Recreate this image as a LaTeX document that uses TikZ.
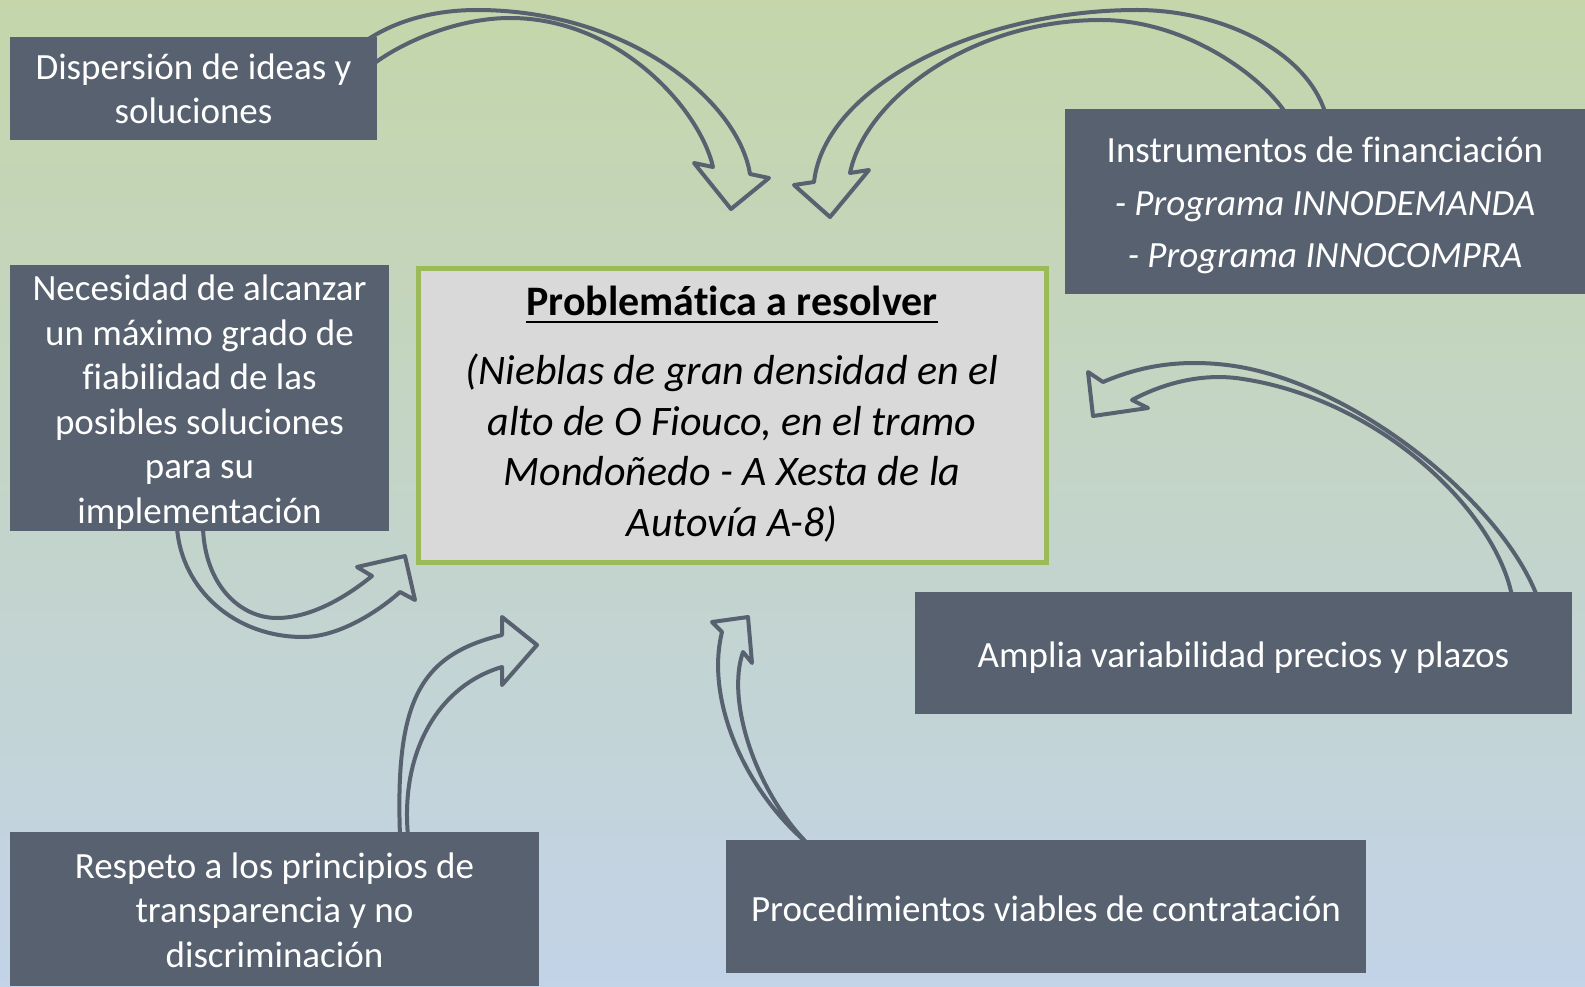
\documentclass[tikz,border=0pt]{standalone}
\usepackage{fontspec}
\setmainfont{Carlito}[Ligatures=NoCommon]
\usetikzlibrary{calc}
\definecolor{boxc}{RGB}{88,97,111}
\definecolor{grn}{RGB}{155,187,89}
\definecolor{cbox}{RGB}{217,217,217}
\definecolor{bgtop}{RGB}{196,214,170}
\definecolor{bgmid}{RGB}{195,212,200}
\definecolor{bgbot}{RGB}{195,211,232}
\begin{document}
\begin{tikzpicture}[x=1pt,y=1pt,
  darkbox/.style={fill=boxc,text=white,inner sep=0pt,align=center,font=\fontsize{37}{44.5}\selectfont,text depth=0pt},
  arr/.style={draw=boxc,line width=4pt,line join=round}]
\useasboundingbox (0,0) rectangle (1585,-987);
\shade[top color=bgtop,middle color=bgmid,bottom color=bgbot] (0,0) rectangle (1585,-987);

% arrows
\draw[arr] (367,-40) .. controls (400,-18) and (440,-10) .. (477,-10)
  .. controls (627,-10) and (738,-100) .. (750,-174) -- (769,-178) -- (731,-209) -- (694,-163) -- (713,-167)
  .. controls (700,-110) and (620,-18) .. (510,-18) .. controls (460,-18) and (405,-40) .. (372,-65);
\draw[arr] (1325,-112) .. controls (1305,-50) and (1220,-10) .. (1137,-10)
  .. controls (980,-10) and (825,-85) .. (814,-182) -- (794,-185) -- (830,-217) -- (869,-170) -- (850,-173)
  .. controls (865,-100) and (970,-20) .. (1101,-20) .. controls (1185,-20) and (1260,-75) .. (1285,-112);
\draw[arr] (1537,-596) .. controls (1500,-500) and (1350,-380) .. (1227,-365)
  .. controls (1177,-359) and (1138,-367) .. (1103,-382) -- (1088,-372) -- (1093,-416) -- (1148,-408) -- (1132,-400)
  .. controls (1160,-385) and (1200,-372) .. (1243,-379) .. controls (1380,-400) and (1495,-510) .. (1512,-596);
\draw[arr] (177,-528) .. controls (182,-590) and (235,-637) .. (303,-637)
  .. controls (340,-637) and (380,-610) .. (400,-592) -- (415,-600) -- (405,-556) -- (357,-567) -- (372,-576)
  .. controls (345,-598) and (310,-618) .. (277,-618) .. controls (240,-618) and (205,-585) .. (203,-528);
\draw[arr] (400,-836) .. controls (395,-700) and (420,-655) .. (502,-635) -- (502,-617) -- (537,-645) -- (502,-685) -- (502,-667)
  .. controls (440,-685) and (400,-750) .. (408,-836);
\draw[arr] (807,-843) .. controls (745,-790) and (705,-700) .. (722,-632) -- (712,-622) -- (748,-617) -- (752,-663) -- (743,-652)
  .. controls (726,-700) and (755,-790) .. (807,-843);

% boxes
\node[darkbox,minimum width=367pt,minimum height=103pt,text height=71pt] (disp) at (193.5,-88.5)
  {Dispersión de ideas y\\soluciones};
\node[darkbox,minimum width=520pt,minimum height=185pt,text height=133pt,font=\fontsize{37}{53}\selectfont] (instr) at (1325,-201.5)
  {Instrumentos de financiación\\\textit{- Programa INNODEMANDA}\\\textit{- Programa INNOCOMPRA}};
\node[darkbox,minimum width=379pt,minimum height=266pt,text height=250pt] (nec) at (199.5,-398)
  {Necesidad de alcanzar\\un máximo grado de\\fiabilidad de las\\posibles soluciones\\para su\\implementación};
\node[darkbox,minimum width=657pt,minimum height=122pt,text height=29pt] (amp) at (1243.5,-653)
  {Amplia variabilidad precios y plazos};
\node[darkbox,minimum width=529pt,minimum height=154pt,text height=116pt] (resp) at (274.5,-909)
  {Respeto a los principios de\\transparencia y no\\discriminación};
\node[darkbox,minimum width=640pt,minimum height=133pt,text height=29pt] (proc) at (1046,-906.5)
  {Procedimientos viables de contratación};

% central box
\node[fill=cbox,draw=grn,line width=5pt,minimum width=628pt,minimum height=294pt,inner sep=0pt] (cen) at (732,-415) {};
\node[anchor=base,inner sep=0pt,font=\fontsize{42}{50}\selectfont\bfseries] (title) at (732,-315) {Problemática a resolver};
\draw[line width=2.8pt] ($(title.base west)+(0,-7)$) -- ($(title.base east)+(0,-7)$);
\node[inner sep=0pt,align=center,font=\fontsize{42}{50.5}\selectfont\itshape] (desc) at (732,-448)
  {(Nieblas de gran densidad en el\\alto de O Fiouco, en el tramo\\Mondoñedo - A Xesta de la\\Autovía A-8)};
\end{tikzpicture}
\end{document}
